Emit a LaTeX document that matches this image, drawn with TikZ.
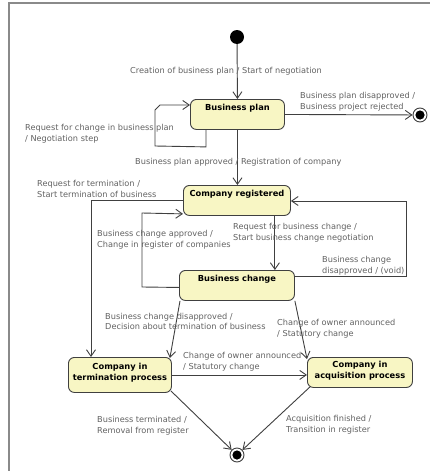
\documentclass[tikz,border=0pt]{standalone}
\usepackage{fontspec}
\setmainfont{DejaVu Sans}
\usetikzlibrary{arrows.meta,calc}

\definecolor{statefill}{HTML}{F8F6C4}
\definecolor{edgecol}{HTML}{404040}
\definecolor{labelcol}{HTML}{626262}
\definecolor{framecol}{HTML}{8A8A8A}

% two-line state name, baseline on the last line
\newcommand{\twoline}[2]{\begin{tabular}[b]{@{}c@{}}#1\\#2\end{tabular}}

\tikzset{
  state/.style={draw=edgecol, fill=statefill, line width=0.9pt, rounded corners=6pt,
    inner xsep=0pt, inner ysep=0pt, anchor=north west,
    font=\fontsize{8.3}{10.8}\selectfont\bfseries},
  trans/.style={draw=edgecol, line width=0.9pt, -{Straight Barb[length=6.5pt,width=9pt]}},
  tlabel/.style={text=labelcol, inner sep=0pt, anchor=west, align=left,
    font=\fontsize{8.2}{10.7}\selectfont},
  initst/.style={circle, fill=black, minimum size=14pt, inner sep=0pt},
  finalst/.style={circle, draw=edgecol, fill=white, line width=0.9pt, minimum size=14pt, inner sep=0pt,
    path picture={\fill[black] (path picture bounding box.center) circle (4.6pt);}}
}

\begin{document}
\begin{tikzpicture}[x=1pt,y=-1pt]
  \useasboundingbox (0,0) rectangle (430,471);
  \fill[white] (0,0) rectangle (430,471);

  % diagram frame
  \draw[framecol, line width=1.2pt] (430,3) -- (9,3) -- (9,471);

  % states
  \node[initst] (init) at (237,37) {};
  \node[state, minimum width=94pt, text height=11pt, text depth=19pt] (plan) at (190,99) {Business plan};
  \node[finalst] (endA) at (420,115) {};
  \node[state, minimum width=107pt, text height=11pt, text depth=19pt] (reg) at (183,185) {Company registered};
  \node[state, minimum width=115pt, text height=11pt, text depth=19pt] (change) at (179,270) {Business change};
  \node[state, minimum width=103pt, text height=23pt, text depth=12pt] (term) at (68,357) {\twoline{Company in}{termination process}};
  \node[state, minimum width=105pt, text height=21pt, text depth=9pt] (acq) at (307,357) {\twoline{Company in}{acquisition process}};
  \node[finalst] (endB) at (237,455) {};

  % helper points for bent connectors
  \coordinate (loopS) at ($(plan.south west)+(16,0)$);
  \coordinate (loopE) at ($(plan.north west)+(0,6)$);
  \coordinate (termIn) at ($(term.north west)+(23,0)$);
  \coordinate (apprS) at ($(change.west)+(0,2)$);
  \coordinate (apprE) at ($(reg.south west)+(0,-2)$);
  \coordinate (reqS) at ($(reg.south east)+(-16,0)$);
  \coordinate (disS) at ($(change.north east)+(0,6)$);
  \coordinate (disE) at ($(reg.north east)+(0,16)$);

  % transitions
  \draw[trans] (init) -- (plan.north);
  \draw[trans] (plan.east) -- (endA);
  \draw[trans] (loopS) -- ++(0,17) -- (155,146) -- (155,110) -- (160,105) -- (loopE);
  \draw[trans] (plan.south) -- (plan.south |- reg.north);
  \draw[trans] (reg.west) -| (termIn);
  \draw[trans] (apprS) -- (142,287) -- (142,213) -- (apprE);
  \draw[trans] (reqS) -- (reqS |- change.north);
  \draw[trans] (disS) -- (406,276) -- (406,201) -- (disE);
  \draw[trans] ($(change.south west)+(1,0)$) -- ($(term.north east)+(-2,1)$);
  \draw[trans] (change.south east) -- ($(acq.north west)+(0,2)$);
  \draw[trans] (term.east) -- (term.east -| acq.west);
  \draw[trans] ($(term.south east)+(-1,-2)$) -- (endB);
  \draw[trans] ($(acq.south west)+(3,-1)$) -- (endB);

  % transition labels
  \node[tlabel] (l1) at (130,71) {Creation of business plan / Start of negotiation};
  \node[tlabel] (l2) at (300,101.5) {Business plan disapproved /\\Business project rejected};
  \node[tlabel] (l3) at (25,133.5) {Request for change in business plan\\/ Negotiation step};
  \node[tlabel] (l4) at (135,162) {Business plan approved / Registration of company};
  \node[tlabel] (l5) at (37,189) {Request for termination /\\Start termination of business};
  \node[tlabel] (l6) at (97,240) {Business change approved /\\Change in register of companies};
  \node[tlabel] (l7) at (233,232.5) {Request for business change /\\Start business change negotiation};
  \node[tlabel] (l8) at (322,266) {Business change\\disapproved / (void)};
  \node[tlabel] (l9) at (105,321.5) {Business change disapproved /\\Decision about termination of business};
  \node[tlabel] (l10) at (277,329) {Change of owner announced\\/ Statutory change};
  \node[tlabel] (l11) at (183,361.5) {Change of owner announced\\/ Statutory change};
  \node[tlabel] (l12) at (97,426) {Business terminated /\\Removal from register};
  \node[tlabel] (l13) at (286,425) {Acquisition finished /\\Transition in register};
\end{tikzpicture}
\end{document}
